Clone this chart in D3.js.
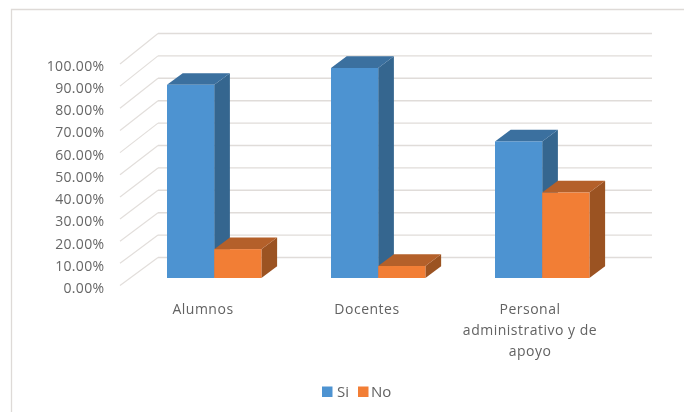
<!DOCTYPE html>
<html><head><meta charset="utf-8">
<script src="https://cdn.jsdelivr.net/npm/d3@7/dist/d3.min.js"></script>
<style>html,body{margin:0;padding:0;background:#fff}svg{display:block}</style>
</head><body><div id="c"></div>
<script>
const categories = ["Alumnos","Docentes","Personal administrativo y de apoyo"];
const categoryLines = [["Alumnos"],["Docentes"],["Personal","administrativo y de","apoyo"]];
const seriesNames = ["Si","No"];
const siValues = [87,94.6,61.5];
const noValues = [13,5.4,38.5];
const ticks = [0,10,20,30,40,50,60,70,80,90,100];
const colors = {Si:"#4e93d1",No:"#f27e36"};
const tops = {Si:"#3a6f9f",No:"#b4602a"};
const sides = {Si:"#34668f",No:"#9b5222"};

const W=684,H=412;
const svg=d3.select("#c").append("svg").attr("width",W).attr("height",H);
const defs=svg.append("defs");
defs.append("filter").attr("id","soft").attr("x","-5%").attr("y","-5%").attr("width","110%").attr("height","110%")
  .append("feGaussianBlur").attr("stdDeviation",0.5);
const g=svg.append("g").attr("filter","url(#soft)");

g.append("path").attr("d","M11.5,412V9.5H684").attr("fill","none").attr("stroke","#dedad7").attr("stroke-width",1.3);

const yFront=d3.scaleLinear().domain([0,100]).range([285.5,64]);
const yBack=d3.scaleLinear().domain([0,100]).range([257.5,33.5]);
const yBar=d3.scaleLinear().domain([0,100]).range([278,56]);
const yLabel=d3.scaleLinear().domain([0,100]).range([293,70.5]);
const x=d3.scaleBand().domain(categories).range([85,577]).paddingInner(0).paddingOuter(0);
const xFrontLeft=120,xBackLeft=158,xBackRight=652;
const bw=47.2,dx=15.7,dy=11.7;
const labelCenters=[203,367,530];

g.selectAll("line.wall").data(ticks).join("line").attr("class","wall")
  .attr("x1",xFrontLeft).attr("y1",d=>yFront(d)).attr("x2",xBackLeft).attr("y2",d=>yBack(d))
  .attr("stroke","#e2dedb").attr("stroke-width",1.2);
g.selectAll("line.grid").data(ticks).join("line").attr("class","grid")
  .attr("x1",xBackLeft).attr("y1",d=>yBack(d)).attr("x2",xBackRight).attr("y2",d=>yBack(d))
  .attr("stroke","#e0dcd9").attr("stroke-width",1.4);

g.selectAll("text.yl").data(ticks).join("text").attr("class","yl")
  .attr("x",104.5).attr("y",d=>yLabel(d))
  .attr("text-anchor","end").attr("font-family","'Open Sans'").attr("font-size",14)
  .attr("letter-spacing",0.35).attr("fill","#666").text(d=>d.toFixed(2)+"%");

function bar(x0,v,name){
  const x1=x0+bw,y0=yBar(0),yt=yBar(v);
  const gb=g.append("g");
  gb.append("path").attr("d",`M${x1},${yt}L${x1+dx},${yt-dy}V${y0-dy}L${x1},${y0}Z`).attr("fill",sides[name]);
  gb.append("path").attr("d",`M${x0},${yt}L${x0+dx},${yt-dy}H${x1+dx}L${x1},${yt}Z`).attr("fill",tops[name]);
  gb.append("rect").attr("x",x0).attr("y",yt).attr("width",bw).attr("height",y0-yt).attr("fill",colors[name]);
}
categories.forEach((c,i)=>{
  const x0=x(c)+82;
  bar(x0,siValues[i],"Si");
  bar(x0+bw,noValues[i],"No");
  const t=g.append("text").attr("text-anchor","middle").attr("font-family","'Open Sans'")
    .attr("font-size",14).attr("letter-spacing",0.5).attr("fill","#626262");
  categoryLines[i].forEach((l,j)=>t.append("tspan").attr("x",labelCenters[i]).attr("y",314+j*21).text(l));
});

const lg=g.append("g");
[["Si",322,337],["No",358,371]].forEach(([n,sx,tx],i)=>{
  lg.append("rect").attr("x",sx).attr("y",386.5).attr("width",10.5).attr("height",10.5).attr("fill",colors[n]);
  lg.append("text").attr("x",tx).attr("y",397).attr("font-family","'Open Sans'").attr("font-size",15).attr("fill","#626262").text(seriesNames[i]);
});
</script></body></html>
